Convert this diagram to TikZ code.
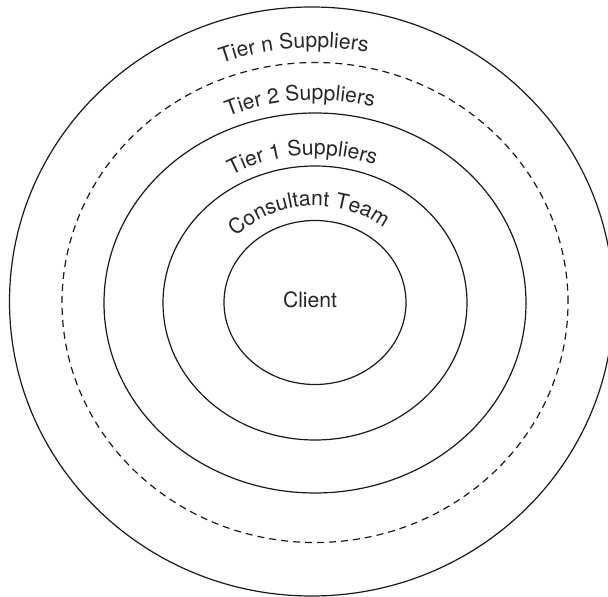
\documentclass[tikz,border=0pt]{standalone}
\usepackage{fontspec}
\setmainfont{TeX Gyre Heros}
\usetikzlibrary{shapes.geometric,decorations.text,calc}
\newcommand{\lblfont}{\fontsize{10.55}{12}\selectfont}
\begin{document}
\begin{tikzpicture}[
  ring/.style={draw=black!90, ellipse, inner sep=0pt, line width=0.6pt},
  dashedring/.style={ring, dash pattern=on 3.5pt off 2.5pt},
  arclabel/.style={decorate, decoration={text along path, text align=center, text color=black!85, text={#1}}},
]
\useasboundingbox (0,0) rectangle (304pt,-298.5pt);
\clip (0,0) rectangle (304pt,-298.5pt);
\coordinate (c) at (157.5pt,-151.25pt);
\node[ring, minimum width=302pt, minimum height=294.5pt] (tiern) at (155.75pt,-150.75pt) {};
\node[dashedring, minimum width=253pt, minimum height=240pt] (tier2) at (c) {};
\node[ring, minimum width=211pt, minimum height=190pt] (tier1) at (157.5pt,-151.5pt) {};
\node[ring, minimum width=152pt, minimum height=137pt] (consult) at (157.5pt,-151.5pt) {};
\node[ring, minimum width=91pt, minimum height=82pt] (client) at (c) {};
\node[font=\lblfont, text=black!85, inner sep=0pt] (clientlbl) at (155pt,-150pt) {Client};
\path[arclabel={|\lblfont|Tier n Suppliers}]
  ($(c)+(154.7:135pt and 127.5pt)$) arc[start angle=154.7, end angle=34.7, x radius=135pt, y radius=127.5pt];
\path[arclabel={|\lblfont|Tier 2 Suppliers}]
  ($(c)+(159.2:109pt and 101.25pt)$) arc[start angle=159.2, end angle=29.2, x radius=109pt, y radius=101.25pt];
\path[arclabel={|\lblfont|Tier 1 Suppliers}]
  ($(c)+(164.9:82pt and 73.75pt)$) arc[start angle=164.9, end angle=24.9, x radius=82pt, y radius=73.75pt];
\path[arclabel={|\lblfont|Consultant Team}]
  ($(c)+(174:54pt and 48.25pt)$) arc[start angle=174, end angle=14, x radius=54pt, y radius=48.25pt];
\end{tikzpicture}
\end{document}
